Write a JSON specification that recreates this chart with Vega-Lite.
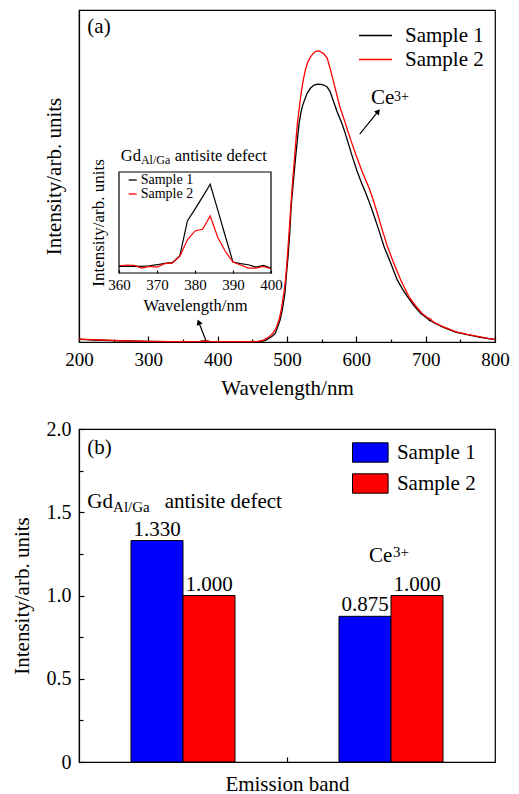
{
  "$schema": "https://vega.github.io/schema/vega-lite/v6.json",
  "padding": {"left": 10, "top": 9, "right": 5, "bottom": 5},
  "bounds": "flush",
  "spacing": 87,
  "background": "white",
  "resolve": {"scale": {"color": "independent"}, "legend": {"color": "independent"}},
  "datasets": {
    "main": [
      {"sample":"Sample 1","wavelength":200,"intensity":0.008},{"sample":"Sample 1","wavelength":210,"intensity":0.007},{"sample":"Sample 1","wavelength":220,"intensity":0.006},{"sample":"Sample 1","wavelength":235,"intensity":0.005},{"sample":"Sample 1","wavelength":250,"intensity":0.004},{"sample":"Sample 1","wavelength":270,"intensity":0.003},{"sample":"Sample 1","wavelength":300,"intensity":0.002},{"sample":"Sample 1","wavelength":330,"intensity":0.001},{"sample":"Sample 1","wavelength":360,"intensity":0.001},{"sample":"Sample 1","wavelength":375,"intensity":0.002},{"sample":"Sample 1","wavelength":382,"intensity":0.004},{"sample":"Sample 1","wavelength":388,"intensity":0.002},{"sample":"Sample 1","wavelength":400,"intensity":0.001},{"sample":"Sample 1","wavelength":430,"intensity":0.001},{"sample":"Sample 1","wavelength":450,"intensity":0.001},{"sample":"Sample 1","wavelength":460,"intensity":0.002},{"sample":"Sample 1","wavelength":465,"intensity":0.003},{"sample":"Sample 1","wavelength":469,"intensity":0.005},{"sample":"Sample 1","wavelength":475,"intensity":0.012},{"sample":"Sample 1","wavelength":479,"intensity":0.018},{"sample":"Sample 1","wavelength":483,"intensity":0.026},{"sample":"Sample 1","wavelength":486,"intensity":0.042},{"sample":"Sample 1","wavelength":490,"intensity":0.066},{"sample":"Sample 1","wavelength":493.5,"intensity":0.1},{"sample":"Sample 1","wavelength":497,"intensity":0.148},{"sample":"Sample 1","wavelength":499,"intensity":0.2},{"sample":"Sample 1","wavelength":501.5,"intensity":0.257},{"sample":"Sample 1","wavelength":504,"intensity":0.33},{"sample":"Sample 1","wavelength":506,"intensity":0.408},{"sample":"Sample 1","wavelength":509,"intensity":0.48},{"sample":"Sample 1","wavelength":512.5,"intensity":0.558},{"sample":"Sample 1","wavelength":515,"intensity":0.61},{"sample":"Sample 1","wavelength":517.5,"intensity":0.659},{"sample":"Sample 1","wavelength":520,"intensity":0.69},{"sample":"Sample 1","wavelength":522,"intensity":0.709},{"sample":"Sample 1","wavelength":526,"intensity":0.733},{"sample":"Sample 1","wavelength":529,"intensity":0.749},{"sample":"Sample 1","wavelength":534,"intensity":0.765},{"sample":"Sample 1","wavelength":539,"intensity":0.774},{"sample":"Sample 1","wavelength":544,"intensity":0.777},{"sample":"Sample 1","wavelength":549,"intensity":0.776},{"sample":"Sample 1","wavelength":553,"intensity":0.774},{"sample":"Sample 1","wavelength":558,"intensity":0.768},{"sample":"Sample 1","wavelength":562,"intensity":0.755},{"sample":"Sample 1","wavelength":567,"intensity":0.725},{"sample":"Sample 1","wavelength":572,"intensity":0.695},{"sample":"Sample 1","wavelength":579,"intensity":0.66},{"sample":"Sample 1","wavelength":583,"intensity":0.635},{"sample":"Sample 1","wavelength":587,"intensity":0.608},{"sample":"Sample 1","wavelength":594,"intensity":0.56},{"sample":"Sample 1","wavelength":601,"intensity":0.515},{"sample":"Sample 1","wavelength":607,"intensity":0.482},{"sample":"Sample 1","wavelength":613,"intensity":0.452},{"sample":"Sample 1","wavelength":618,"intensity":0.425},{"sample":"Sample 1","wavelength":624,"intensity":0.39},{"sample":"Sample 1","wavelength":632,"intensity":0.34},{"sample":"Sample 1","wavelength":640,"intensity":0.287},{"sample":"Sample 1","wavelength":650,"intensity":0.236},{"sample":"Sample 1","wavelength":659,"intensity":0.187},{"sample":"Sample 1","wavelength":667,"intensity":0.158},{"sample":"Sample 1","wavelength":674,"intensity":0.136},{"sample":"Sample 1","wavelength":683,"intensity":0.11},{"sample":"Sample 1","wavelength":693,"intensity":0.086},{"sample":"Sample 1","wavelength":703,"intensity":0.07},{"sample":"Sample 1","wavelength":706,"intensity":0.064},{"sample":"Sample 1","wavelength":708,"intensity":0.064},{"sample":"Sample 1","wavelength":710,"intensity":0.06},{"sample":"Sample 1","wavelength":714,"intensity":0.056},{"sample":"Sample 1","wavelength":725,"intensity":0.045},{"sample":"Sample 1","wavelength":743,"intensity":0.03},{"sample":"Sample 1","wavelength":760,"intensity":0.022},{"sample":"Sample 1","wavelength":777,"intensity":0.015},{"sample":"Sample 1","wavelength":790,"intensity":0.01},{"sample":"Sample 1","wavelength":800,"intensity":0.007},
      {"sample":"Sample 2","wavelength":200,"intensity":0.009},{"sample":"Sample 2","wavelength":210,"intensity":0.008},{"sample":"Sample 2","wavelength":220,"intensity":0.007},{"sample":"Sample 2","wavelength":235,"intensity":0.006},{"sample":"Sample 2","wavelength":250,"intensity":0.005},{"sample":"Sample 2","wavelength":270,"intensity":0.003},{"sample":"Sample 2","wavelength":300,"intensity":0.002},{"sample":"Sample 2","wavelength":330,"intensity":0.001},{"sample":"Sample 2","wavelength":360,"intensity":0.001},{"sample":"Sample 2","wavelength":375,"intensity":0.002},{"sample":"Sample 2","wavelength":382,"intensity":0.003},{"sample":"Sample 2","wavelength":388,"intensity":0.002},{"sample":"Sample 2","wavelength":400,"intensity":0.001},{"sample":"Sample 2","wavelength":430,"intensity":0.001},{"sample":"Sample 2","wavelength":450,"intensity":0.001},{"sample":"Sample 2","wavelength":457,"intensity":0.002},{"sample":"Sample 2","wavelength":461,"intensity":0.003},{"sample":"Sample 2","wavelength":465,"intensity":0.005},{"sample":"Sample 2","wavelength":470,"intensity":0.01},{"sample":"Sample 2","wavelength":475,"intensity":0.017},{"sample":"Sample 2","wavelength":480,"intensity":0.027},{"sample":"Sample 2","wavelength":485,"intensity":0.045},{"sample":"Sample 2","wavelength":488.5,"intensity":0.066},{"sample":"Sample 2","wavelength":492,"intensity":0.1},{"sample":"Sample 2","wavelength":495.5,"intensity":0.148},{"sample":"Sample 2","wavelength":498,"intensity":0.19},{"sample":"Sample 2","wavelength":500.5,"intensity":0.257},{"sample":"Sample 2","wavelength":503,"intensity":0.33},{"sample":"Sample 2","wavelength":505.5,"intensity":0.408},{"sample":"Sample 2","wavelength":508,"intensity":0.48},{"sample":"Sample 2","wavelength":511,"intensity":0.558},{"sample":"Sample 2","wavelength":513,"intensity":0.61},{"sample":"Sample 2","wavelength":515,"intensity":0.659},{"sample":"Sample 2","wavelength":518,"intensity":0.71},{"sample":"Sample 2","wavelength":521,"intensity":0.759},{"sample":"Sample 2","wavelength":524,"intensity":0.795},{"sample":"Sample 2","wavelength":527,"intensity":0.824},{"sample":"Sample 2","wavelength":530,"intensity":0.843},{"sample":"Sample 2","wavelength":534,"intensity":0.859},{"sample":"Sample 2","wavelength":538,"intensity":0.87},{"sample":"Sample 2","wavelength":541,"intensity":0.875},{"sample":"Sample 2","wavelength":544,"intensity":0.877},{"sample":"Sample 2","wavelength":547,"intensity":0.876},{"sample":"Sample 2","wavelength":550,"intensity":0.872},{"sample":"Sample 2","wavelength":553,"intensity":0.868},{"sample":"Sample 2","wavelength":558,"intensity":0.855},{"sample":"Sample 2","wavelength":564,"intensity":0.81},{"sample":"Sample 2","wavelength":570,"intensity":0.76},{"sample":"Sample 2","wavelength":576,"intensity":0.71},{"sample":"Sample 2","wavelength":584,"intensity":0.66},{"sample":"Sample 2","wavelength":592,"intensity":0.608},{"sample":"Sample 2","wavelength":600,"intensity":0.56},{"sample":"Sample 2","wavelength":609,"intensity":0.51},{"sample":"Sample 2","wavelength":618,"intensity":0.466},{"sample":"Sample 2","wavelength":624,"intensity":0.43},{"sample":"Sample 2","wavelength":630,"intensity":0.39},{"sample":"Sample 2","wavelength":637,"intensity":0.34},{"sample":"Sample 2","wavelength":645,"intensity":0.287},{"sample":"Sample 2","wavelength":654,"intensity":0.237},{"sample":"Sample 2","wavelength":664,"intensity":0.187},{"sample":"Sample 2","wavelength":676,"intensity":0.136},{"sample":"Sample 2","wavelength":685,"intensity":0.11},{"sample":"Sample 2","wavelength":695,"intensity":0.086},{"sample":"Sample 2","wavelength":704,"intensity":0.071},{"sample":"Sample 2","wavelength":707,"intensity":0.07},{"sample":"Sample 2","wavelength":709,"intensity":0.064},{"sample":"Sample 2","wavelength":714,"intensity":0.057},{"sample":"Sample 2","wavelength":725,"intensity":0.046},{"sample":"Sample 2","wavelength":743,"intensity":0.031},{"sample":"Sample 2","wavelength":760,"intensity":0.023},{"sample":"Sample 2","wavelength":777,"intensity":0.016},{"sample":"Sample 2","wavelength":790,"intensity":0.011},{"sample":"Sample 2","wavelength":800,"intensity":0.008}
    ],
    "inset": [
      {"sample":"Sample 1","wavelength":360,"intensity":0.066},{"sample":"Sample 1","wavelength":362,"intensity":0.066},{"sample":"Sample 1","wavelength":364,"intensity":0.069},{"sample":"Sample 1","wavelength":366,"intensity":0.066},{"sample":"Sample 1","wavelength":368,"intensity":0.072},{"sample":"Sample 1","wavelength":370,"intensity":0.082},{"sample":"Sample 1","wavelength":372,"intensity":0.095},{"sample":"Sample 1","wavelength":374,"intensity":0.102},{"sample":"Sample 1","wavelength":376,"intensity":0.17},{"sample":"Sample 1","wavelength":378,"intensity":0.515},{"sample":"Sample 1","wavelength":380,"intensity":0.633},{"sample":"Sample 1","wavelength":382,"intensity":0.754},{"sample":"Sample 1","wavelength":384,"intensity":0.879},{"sample":"Sample 1","wavelength":386,"intensity":0.623},{"sample":"Sample 1","wavelength":388,"intensity":0.361},{"sample":"Sample 1","wavelength":390,"intensity":0.108},{"sample":"Sample 1","wavelength":392,"intensity":0.092},{"sample":"Sample 1","wavelength":394,"intensity":0.082},{"sample":"Sample 1","wavelength":396,"intensity":0.059},{"sample":"Sample 1","wavelength":398,"intensity":0.075},{"sample":"Sample 1","wavelength":400,"intensity":0.049},
      {"sample":"Sample 2","wavelength":360,"intensity":0.072},{"sample":"Sample 2","wavelength":362,"intensity":0.079},{"sample":"Sample 2","wavelength":364,"intensity":0.075},{"sample":"Sample 2","wavelength":366,"intensity":0.049},{"sample":"Sample 2","wavelength":368,"intensity":0.066},{"sample":"Sample 2","wavelength":370,"intensity":0.059},{"sample":"Sample 2","wavelength":372,"intensity":0.092},{"sample":"Sample 2","wavelength":374,"intensity":0.098},{"sample":"Sample 2","wavelength":376,"intensity":0.164},{"sample":"Sample 2","wavelength":378,"intensity":0.328},{"sample":"Sample 2","wavelength":380,"intensity":0.416},{"sample":"Sample 2","wavelength":382,"intensity":0.433},{"sample":"Sample 2","wavelength":384,"intensity":0.564},{"sample":"Sample 2","wavelength":386,"intensity":0.351},{"sample":"Sample 2","wavelength":388,"intensity":0.213},{"sample":"Sample 2","wavelength":390,"intensity":0.108},{"sample":"Sample 2","wavelength":392,"intensity":0.079},{"sample":"Sample 2","wavelength":394,"intensity":0.049},{"sample":"Sample 2","wavelength":396,"intensity":0.049},{"sample":"Sample 2","wavelength":398,"intensity":0.066},{"sample":"Sample 2","wavelength":400,"intensity":0.043}
    ],
    "bars": [
      {"band":"Gd_Al/Ga antisite defect","sample":"Sample 1","value":1.33},
      {"band":"Gd_Al/Ga antisite defect","sample":"Sample 2","value":1.0},
      {"band":"Ce3+","sample":"Sample 1","value":0.875},
      {"band":"Ce3+","sample":"Sample 2","value":1.0}
    ]
  },
  "vconcat": [
    {
      "width": 416,
      "height": 332,
      "layer": [
        {
          "data": {"name": "main"},
          "mark": {"type": "line", "strokeWidth": 1.3},
          "encoding": {
            "x": {"field": "wavelength", "type": "quantitative",
              "scale": {"domain": [200, 800], "nice": false, "zero": false},
              "axis": {"orient": "bottom", "values": [200,300,400,500,600,700,800], "tickSize": -6, "labelPadding": 14, "labelFontSize": 19, "title": "Wavelength/nm", "titleFontSize": 21, "titlePadding": 8}},
            "y": {"field": "intensity", "type": "quantitative",
              "scale": {"domain": [0, 1], "nice": false},
              "axis": {"orient": "left", "labels": false, "ticks": false, "title": "Intensity/arb. units", "titleFontSize": 21, "titlePadding": 15}},
            "color": {"field": "sample", "type": "nominal",
              "scale": {"domain": ["Sample 1", "Sample 2"], "range": ["#000000", "#ff0000"]},
              "legend": {"orient": "none", "legendX": 297, "legendY": 15, "title": null, "symbolType": "M-5,0H1", "symbolSize": 121, "symbolStrokeWidth": 1.5, "labelFontSize": 21, "labelOffset": 8, "rowPadding": 2, "padding": 0}}
          }
        },
        {
          "layer": [
            {
              "data": {"values": [{"label": "(a)"}]},
              "mark": {"type": "text", "align": "left", "baseline": "alphabetic", "fontSize": 21},
              "encoding": {
                "x": {"datum": 212, "type": "quantitative", "scale": {"domain": [200, 800], "nice": false, "zero": false},
                  "axis": {"orient": "bottom", "values": [250,350,450,550,650,750], "tickSize": -3, "labels": false, "domain": false, "title": null}},
                "y": {"datum": 0.932, "type": "quantitative", "scale": {"domain": [0, 1], "nice": false}, "axis": null},
                "text": {"field": "label"}
              }
            },
            {
              "data": {"values": [{"label": "Ce"}]},
              "mark": {"type": "text", "align": "left", "baseline": "alphabetic", "fontSize": 21},
              "encoding": {
                "x": {"datum": 621.2, "type": "quantitative"},
                "y": {"datum": 0.717, "type": "quantitative"},
                "text": {"field": "label"}
              }
            },
            {
              "data": {"values": [{"label": "3+"}]},
              "mark": {"type": "text", "align": "left", "baseline": "alphabetic", "fontSize": 14},
              "encoding": {
                "x": {"datum": 654.3, "type": "quantitative"},
                "y": {"datum": 0.727, "type": "quantitative"},
                "text": {"field": "label"}
              }
            },
            {
              "data": {"values": [{"label": "Ce3+ arrow"}]},
              "mark": {"type": "rule", "color": "black", "strokeWidth": 1.2},
              "encoding": {
                "x": {"datum": 604.9, "type": "quantitative"},
                "y": {"datum": 0.626, "type": "quantitative"},
                "x2": {"datum": 631.5},
                "y2": {"datum": 0.695}
              }
            },
            {
              "data": {"values": [{"label": "Ce3+ arrow"}]},
              "mark": {"type": "point", "shape": "triangle-up", "filled": true, "color": "black", "opacity": 1, "size": 40, "angle": 39},
              "encoding": {
                "x": {"datum": 631.5, "type": "quantitative"},
                "y": {"datum": 0.695, "type": "quantitative"}
              }
            },
            {
              "data": {"values": [{"label": "defect arrow"}]},
              "mark": {"type": "rule", "color": "black", "strokeWidth": 1.2},
              "encoding": {
                "x": {"datum": 382.7, "type": "quantitative"},
                "y": {"datum": 0.006, "type": "quantitative"},
                "x2": {"datum": 372.6},
                "y2": {"datum": 0.06}
              }
            },
            {
              "data": {"values": [{"label": "defect arrow"}]},
              "mark": {"type": "point", "shape": "triangle-up", "filled": true, "color": "black", "opacity": 1, "size": 40, "angle": 339},
              "encoding": {
                "x": {"datum": 372.6, "type": "quantitative"},
                "y": {"datum": 0.06, "type": "quantitative"}
              }
            }
          ]
        },
        {
          "layer": [
            {
              "data": {"name": "inset"},
              "mark": {"type": "line", "strokeWidth": 1.2},
              "encoding": {
                "x": {"field": "wavelength", "type": "quantitative",
                  "scale": {"domain": [360, 400], "range": [40, 192], "nice": false, "zero": false},
                  "axis": {"orient": "bottom", "offset": -69, "values": [360,370,380,390,400], "tickSize": -3, "labelPadding": 7, "labelFontSize": 15, "domain": false, "title": "Wavelength/nm", "titleFontSize": 16.5, "titlePadding": 5}},
                "y": {"field": "intensity", "type": "quantitative",
                  "scale": {"domain": [0, 1], "range": [263, 162], "nice": false},
                  "axis": {"orient": "left", "offset": -40, "labels": false, "ticks": false, "domain": false, "title": "Intensity/arb. units", "titleFontSize": 17, "titlePadding": 12}},
                "color": {"field": "sample", "type": "nominal",
                  "scale": {"domain": ["Sample 1", "Sample 2"], "range": ["#000000", "#ff0000"]},
                  "legend": {"orient": "none", "legendX": 46.7, "legendY": 163, "title": null, "symbolType": "M-1,0H1", "symbolSize": 64, "symbolStrokeWidth": 1.3, "labelFontSize": 14, "labelOffset": 1, "rowPadding": -1, "padding": 0}}
              }
            },
            {
              "data": {"values": [{"label": "inset frame"}]},
              "mark": {"type": "rect", "fillOpacity": 0, "stroke": "black", "strokeWidth": 1.2},
              "encoding": {
                "x": {"datum": 360, "type": "quantitative"},
                "x2": {"datum": 400},
                "y": {"datum": 0, "type": "quantitative"},
                "y2": {"datum": 1}
              }
            },
            {
              "data": {"values": [{"label": "Gd"}]},
              "mark": {"type": "text", "align": "left", "baseline": "alphabetic", "fontSize": 16.5},
              "encoding": {
                "x": {"datum": 360.45, "type": "quantitative"},
                "y": {"datum": 1.112, "type": "quantitative"},
                "text": {"field": "label"}
              }
            },
            {
              "data": {"values": [{"label": "Al/Ga"}]},
              "mark": {"type": "text", "align": "left", "baseline": "alphabetic", "fontSize": 12},
              "encoding": {
                "x": {"datum": 365.76, "type": "quantitative"},
                "y": {"datum": 1.084, "type": "quantitative"},
                "text": {"field": "label"}
              }
            },
            {
              "data": {"values": [{"label": "antisite defect"}]},
              "mark": {"type": "text", "align": "left", "baseline": "alphabetic", "fontSize": 16.5},
              "encoding": {
                "x": {"datum": 374.66, "type": "quantitative"},
                "y": {"datum": 1.112, "type": "quantitative"},
                "text": {"field": "label"}
              }
            }
          ]
        }
      ],
      "resolve": {
        "scale": {"x": "independent", "y": "independent", "color": "independent"},
        "axis": {"x": "independent", "y": "independent"},
        "legend": {"color": "independent"}
      }
    },
    {
      "width": 416,
      "height": 333,
      "layer": [
        {
          "layer": [
            {
              "data": {"name": "bars"},
              "mark": {"type": "bar", "stroke": "black", "strokeWidth": 1},
              "encoding": {
                "x": {"field": "band", "type": "nominal", "sort": null,
                  "scale": {"domain": ["Gd_Al/Ga antisite defect", "Ce3+"], "paddingInner": 0.5, "paddingOuter": 0.25},
                  "axis": {"orient": "bottom", "labels": false, "ticks": false, "title": "Emission band", "titleFontSize": 21, "titlePadding": 11}},
                "xOffset": {"field": "sample", "type": "nominal",
                  "scale": {"domain": ["Sample 1", "Sample 2"], "paddingInner": 0, "paddingOuter": 0}},
                "y": {"field": "value", "type": "quantitative",
                  "scale": {"domain": [0, 2], "nice": false},
                  "axis": {"orient": "left", "values": [0, 0.5, 1, 1.5, 2], "labelExpr": "datum.value == 0 ? '0' : format(datum.value, '.1f')", "tickSize": -5, "labelPadding": 13, "labelFontSize": 20, "title": "Intensity/arb. units", "titleFontSize": 21, "titlePadding": 14}},
                "color": {"field": "sample", "type": "nominal",
                  "scale": {"domain": ["Sample 1", "Sample 2"], "range": ["#0000ff", "#ff0000"]},
                  "legend": {"orient": "none", "legendX": 288.9, "legendY": 13, "title": null, "symbolType": "M-2.67,-1H1V1H-2.67Z", "symbolSize": 376, "symbolStrokeColor": "black", "symbolStrokeWidth": 1, "labelFontSize": 21, "labelOffset": 8, "rowPadding": 6, "padding": 0}}
              }
            },
            {
              "data": {"name": "bars"},
              "mark": {"type": "text", "baseline": "alphabetic", "dy": -5, "fontSize": 21},
              "encoding": {
                "x": {"field": "band", "type": "nominal", "sort": null},
                "xOffset": {"field": "sample", "type": "nominal"},
                "y": {"field": "value", "type": "quantitative"},
                "text": {"field": "value", "type": "quantitative", "format": ".3f"}
              }
            }
          ]
        },
        {
          "layer": [
            {
              "data": {"values": [{"label": "(b)"}]},
              "mark": {"type": "text", "align": "left", "baseline": "alphabetic", "fontSize": 21},
              "encoding": {
                "x": {"datum": 0.02, "type": "quantitative", "scale": {"domain": [0, 1], "nice": false, "zero": false},
                  "axis": {"orient": "bottom", "values": [0.5], "tickSize": -5, "labels": false, "domain": false, "title": null}},
                "y": {"datum": 1.847, "type": "quantitative", "scale": {"domain": [0, 2], "nice": false},
                  "axis": {"orient": "left", "values": [0.25, 0.75, 1.25, 1.75], "tickSize": -4, "labels": false, "domain": false, "title": null}},
                "text": {"field": "label"}
              }
            },
            {
              "data": {"values": [{"label": "Gd"}]},
              "mark": {"type": "text", "align": "left", "baseline": "alphabetic", "fontSize": 21},
              "encoding": {
                "x": {"datum": 0.02, "type": "quantitative"},
                "y": {"datum": 1.524, "type": "quantitative"},
                "text": {"field": "label"}
              }
            },
            {
              "data": {"values": [{"label": "Al/Ga"}]},
              "mark": {"type": "text", "align": "left", "baseline": "alphabetic", "fontSize": 15},
              "encoding": {
                "x": {"datum": 0.082, "type": "quantitative"},
                "y": {"datum": 1.502, "type": "quantitative"},
                "text": {"field": "label"}
              }
            },
            {
              "data": {"values": [{"label": "antisite defect"}]},
              "mark": {"type": "text", "align": "left", "baseline": "alphabetic", "fontSize": 21},
              "encoding": {
                "x": {"datum": 0.206, "type": "quantitative"},
                "y": {"datum": 1.524, "type": "quantitative"},
                "text": {"field": "label"}
              }
            },
            {
              "data": {"values": [{"label": "Ce"}]},
              "mark": {"type": "text", "align": "left", "baseline": "alphabetic", "fontSize": 21},
              "encoding": {
                "x": {"datum": 0.697, "type": "quantitative"},
                "y": {"datum": 1.203, "type": "quantitative"},
                "text": {"field": "label"}
              }
            },
            {
              "data": {"values": [{"label": "3+"}]},
              "mark": {"type": "text", "align": "left", "baseline": "alphabetic", "fontSize": 15},
              "encoding": {
                "x": {"datum": 0.755, "type": "quantitative"},
                "y": {"datum": 1.233, "type": "quantitative"},
                "text": {"field": "label"}
              }
            }
          ]
        }
      ],
      "resolve": {
        "scale": {"x": "independent", "y": "independent"},
        "axis": {"x": "independent", "y": "independent"}
      }
    }
  ],
  "config": {
    "font": "Liberation Serif",
    "view": {"stroke": "black", "strokeWidth": 1.2},
    "axis": {"labelFont": "Liberation Serif", "titleFont": "Liberation Serif", "labelColor": "black", "titleColor": "black", "titleFontWeight": "normal", "domainColor": "black", "tickColor": "black", "grid": false, "labelFlush": false, "tickWidth": 1.2, "domainWidth": 1.2, "labelOverlap": false},
    "legend": {"labelFont": "Liberation Serif", "labelColor": "black"},
    "text": {"font": "Liberation Serif", "color": "black"}
  }
}
